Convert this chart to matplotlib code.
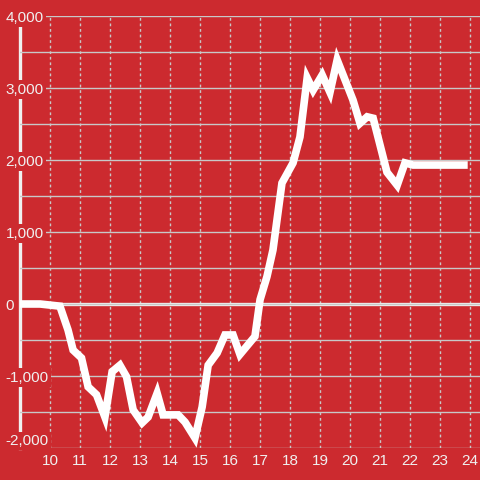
import numpy as np
import matplotlib
matplotlib.use("Agg")
import matplotlib.pyplot as plt
import matplotlib.ticker as ticker

# hour of day vs running value
HOURS = [9.0, 9.67, 10.33, 10.6, 10.77, 11.05, 11.27, 11.55, 11.83, 12.07,
         12.33, 12.55, 12.77, 13.07, 13.27, 13.57, 13.77, 14.27, 14.5, 14.83,
         15.07, 15.27, 15.57, 15.83, 16.1, 16.33, 16.83, 17.0, 17.23, 17.43,
         17.73, 18.1, 18.33, 18.57, 18.77, 19.07, 19.33, 19.57, 20.1, 20.33,
         20.57, 20.77, 21.23, 21.57, 21.83, 22.1, 23.92]
VALUES = [0, 0, -30, -360, -640, -750, -1150, -1260, -1570, -940,
          -850, -1010, -1470, -1650, -1570, -1240, -1540, -1540, -1640, -1860,
          -1430, -850, -680, -430, -430, -700, -450, 60, 380, 750,
          1680, 1960, 2320, 3140, 2970, 3180, 2940, 3390, 2830, 2510,
          2600, 2580, 1830, 1650, 1960, 1930, 1930]
X_TICKS = list(range(10, 25))
Y_TICKS = [-2000, -1000, 0, 1000, 2000, 3000, 4000]

BG = "#cc2a2f"
FG = "#f0f0f0"
GRID = "#c8c8c8"

plt.rcParams["font.family"] = ["Liberation Sans", "DejaVu Sans"]

fig = plt.figure(figsize=(4.8, 4.8), dpi=100, facecolor=BG)
ax = fig.add_axes([20 / 480, 32 / 480, 460 / 480, 432 / 480], facecolor=BG)

ax.plot(HOURS, VALUES, color="white", linewidth=5.5,
        solid_joinstyle="miter", solid_capstyle="butt", zorder=5)
ax.axhline(0, color=FG, linewidth=2.4, zorder=2)

ax.set_xlim(9, 24.33)
ax.set_ylim(-2000, 4000)
ax.set_xticks(X_TICKS)
ax.set_yticks(Y_TICKS)
ax.yaxis.set_minor_locator(ticker.MultipleLocator(500))
ax.yaxis.set_major_formatter(ticker.FuncFormatter(lambda v, p: f"{v:,.0f}"))

ax.grid(axis="y", which="both", color=GRID, linewidth=1.0)
ax.grid(axis="x", which="major", color=GRID, linewidth=1.0, linestyle=(0, (2, 2)))
ax.yaxis.set_zorder(3)
ax.xaxis.set_zorder(1)

ax.tick_params(axis="both", which="both", length=0, colors=FG, labelsize=11)
ax.tick_params(axis="y", pad=10.5)
ax.tick_params(axis="x", pad=4)
ylabels = ax.get_yticklabels()
for lab in ylabels:
    lab.set_horizontalalignment("left")
    lab.set_bbox(dict(facecolor=BG, edgecolor="none", pad=1.5))
# lowest label sits just above the bottom line
ylabels[0].set_verticalalignment("bottom")

for s in ["top", "right", "bottom"]:
    ax.spines[s].set_visible(False)
ax.spines["left"].set_color(FG)
ax.spines["left"].set_linewidth(2.4)

fig.savefig("out.png", dpi=100, facecolor=BG)
